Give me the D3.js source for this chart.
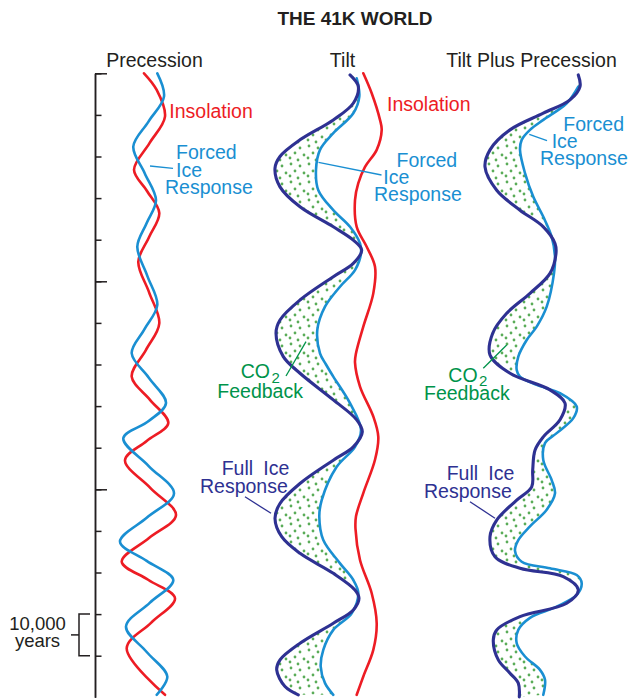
<!DOCTYPE html>
<html>
<head>
<meta charset="utf-8">
<script src="https://d3js.org/d3.v7.min.js"></script>
<style>
  body { margin: 0; background: #fff; }
  svg { display: block; }
  text { font-family: "Liberation Sans", Arial, Helvetica, sans-serif; }
</style>
</head>
<body>
<svg id="chart" width="630" height="699"></svg>
<script>
  // time runs downward, in thousands of years; x values are offsets from each panel's centre line
  const minorTicks = [0, 10, 20, 30, 40, 50, 60, 70, 80, 90, 100, 110, 120, 130, 140];
  const majorTicks = [0, 50, 100];
  const panelTitles = ["Precession", "Tilt", "Tilt Plus Precession"];

  // Precession panel
  const precInsolation = [[-4,0],[8.7,4],[17,10.4],[1.5,16.8],[-14,23.2],[-1,28.3],[11.3,33.6],[1,39.4],[-9.7,45.3],
    [1,52.6],[11.3,60.1],[-2,66.5],[-16.3,72.9],[2,78.5],[20.3,84.1],[-1.3,88.4],[-23,93],[2.5,99.7],[28,106.2],
    [1,111.7],[-26.3,117.4],[0.5,121.8],[27,126.2],[3,132.1],[-21.3,138.2],[17,149.4]];
  const precForced = [[9.3,0],[16,5.6],[0.5,11.6],[-14.7,17.6],[-3.3,24],[8,30.5],[-1.3,36],[-10.7,41.7],[-0.7,48.7],
    [9.3,55.7],[-3.5,61.5],[-16.3,67.3],[0.8,73.2],[18,79.3],[0.7,83.6],[-24.7,87.7],[0.7,94.4],[26,101],[-1,106.8],
    [-28,112.6],[-1.3,117.2],[25.3,121.8],[1.7,127.3],[-22,133],[-1.3,139.1],[19.3,145],[8.7,149.4]];

  // Tilt panel
  const tiltInsolation = [[43.3,0],[51.7,4.8],[60,11.2],[61.7,13.6],[56.7,18.4],[45,22.5],[38.3,26.4],[35,30.5],
    [36.7,36.9],[46.7,41.7],[55,46.5],[53.3,52.9],[43.3,60.9],[36,67.3],[35,69.5],[40,75.3],[53.3,82.5],[58.3,87.4],
    [55,92.9],[43.3,100.9],[36,106.5],[35.5,109.5],[40,117],[51.7,125],[56.7,132.2],[53.3,138.6],[43.3,145],[36.7,149.4]];
  const tiltForced = [[36.7,1.2],[39.3,5.6],[33.3,9.6],[13.3,14.4],[0,18.4],[-4,23.2],[-1.7,28.1],[13.3,32.9],[30,36.9],
    [40,40.9],[41,43.3],[35,47.3],[20,51.3],[5,56.1],[-2.7,61.7],[0,67.3],[6,70],[13.3,72.9],[30,79.3],[41,85.7],
    [35,89.8],[16.7,94.6],[1.7,102.6],[-0.7,106.6],[3.3,112.2],[20,117.8],[33.3,121.8],[38.3,125],[31.7,129.8],
    [13.3,133.8],[3.3,138.6],[0.7,142.6],[5,146.6],[13.3,149.4]];
  const tiltFull = [[30,0.4],[38.3,3.2],[33.3,7.2],[13.3,11.2],[-20,16],[-40,20],[-45,22.8],[-40,27.3],[-20,32.1],
    [13.3,36.9],[33.3,40.1],[41.7,42.5],[33.3,45.7],[13.3,48.9],[-20,54.5],[-40,59.3],[-44,62.5],[-36.7,68.1],
    [-20,72.1],[13.3,78.5],[36.7,83.3],[42.3,86.2],[33.3,89.8],[13.3,93],[-20,98.6],[-40,103.4],[-45,107],
    [-38.3,111.4],[-20,115.4],[13.3,120.2],[35,124.2],[39,126.2],[33.3,129],[13.3,132.2],[-20,137],[-40,141],
    [-43.3,143.4],[-35,147.4],[-21.7,149.4]];

  // Tilt plus precession panel
  const comboForced = [[43.3,3.2],[31.7,7.2],[8.3,11.2],[-5,13.6],[-13.3,16],[-15,18.4],[-10,24],[-1.7,29.7],[8.3,34.5],
    [16.7,39.3],[20,44.1],[19,48.1],[11.7,56.1],[1.7,60.9],[-8.3,64.1],[-16.7,68.1],[-18.3,71.3],[-15,72.9],[1.7,74.9],
    [25,76.9],[41.7,80.1],[38.3,82.9],[21.7,86.5],[10,88.9],[8.3,93],[16.7,97.8],[20,101],[11.7,104.9],[-5,108.9],
    [-16.7,112.2],[-20,114.8],[-13.3,117.4],[15,119],[41.7,120.6],[46.7,122.6],[41.7,125.4],[21.7,128.2],[-5,130.9],
    [-16.7,133.8],[-18.3,137],[-10,140.2],[5,143.4],[10,145.8],[8.3,149.4]];
  const comboFull = [[43.3,0.4],[45,3.2],[35,6.4],[8.3,9.6],[-25,13.6],[-45,18.4],[-50,22.5],[-38.3,28.1],[-15,32.9],
    [8.3,36.9],[20,40.9],[21,43.3],[15,48.1],[-5,52.9],[-28.3,57.7],[-42.3,62.5],[-45,67.7],[-25,72.1],[15,76.1],
    [30,79.3],[25,83.3],[8.3,87.4],[0,90.6],[-2.3,95.4],[-3.3,99.4],[-18.3,102.6],[-38.3,107.4],[-45,111.4],
    [-40,116.2],[-15,119],[28.3,121],[43.3,124.2],[31.7,127.4],[-15,130.6],[-38.3,133.8],[-41.7,136.2],[-36.7,141],
    [-25,144.2],[-16.7,146.6],[-15.7,149.9]];

  const RED = "#ed1c24", BLUE = "#1a8fd2", NAVY = "#2e3192", GREEN = "#00934a", INK = "#231f20";

  const svg = d3.select("#chart");

  const y = d3.scaleLinear().domain([0, 150]).range([73.3, 697.3]);
  const panelX = c => d3.scaleLinear().domain([-50, 50]).range([c - 50, c + 50]);
  const x1 = panelX(148), x2 = panelX(320), x3 = panelX(535);

  // dotted texture for the CO2 feedback band
  const defs = svg.append("defs");
  const pat = defs.append("pattern").attr("id", "dots").attr("patternUnits", "userSpaceOnUse")
    .attr("width", 18).attr("height", 18);
  [[3,2],[12,4],[7,9],[16,11],[2,14],[10,16]].forEach(p =>
    pat.append("circle").attr("cx", p[0]).attr("cy", p[1]).attr("r", 1.4).attr("fill", "#5aac58"));

  // title
  svg.append("text").attr("x", 355).attr("y", 25).attr("text-anchor", "middle")
    .attr("font-weight", "bold").attr("font-size", 19).attr("fill", INK).text("THE 41K WORLD");

  const titleX = [154.5, 342.5, 531.5];
  svg.selectAll(".ptitle").data(panelTitles).enter().append("text")
    .attr("class", "ptitle").attr("x", (d, i) => titleX[i]).attr("y", 66.7)
    .attr("text-anchor", "middle").attr("font-size", 19.5).attr("fill", INK).text(d => d);

  // time axis
  const axisG = svg.append("g").attr("transform", "translate(95,0)");
  axisG.call(d3.axisRight(y).tickValues(minorTicks).tickSize(6.5).tickSizeOuter(0).tickFormat(""));
  const majG = svg.append("g").attr("transform", "translate(95,0)");
  majG.call(d3.axisRight(y).tickValues(majorTicks).tickSize(12).tickSizeOuter(0).tickFormat(""));
  svg.selectAll(".domain, .tick line").attr("stroke", INK).attr("stroke-width", 1.5);

  // 10,000 years bracket
  const b = svg.append("g").attr("stroke", INK).attr("stroke-width", 1.5).attr("fill", "none");
  b.append("path").attr("d", `M90,${y(130)}H79V${y(140)}H90`);
  b.append("path").attr("d", `M71,${(y(130) + y(140)) / 2}H79`);
  svg.append("text").attr("x", 37.5).attr("y", 630).attr("text-anchor", "middle")
    .attr("font-size", 18.5).attr("fill", INK).text("10,000");
  svg.append("text").attr("x", 37.5).attr("y", 647).attr("text-anchor", "middle")
    .attr("font-size", 18.5).attr("fill", INK).text("years");

  const lineFor = xs => d3.line().x(d => xs(d[0])).y(d => y(d[1])).curve(d3.curveCatmullRom.alpha(0.5));

  function band(xs, full, forced) {
    const a = lineFor(xs)(full);
    const back = lineFor(xs)(forced.slice().reverse()).replace(/^M/, "L");
    svg.append("path").attr("d", a + back + "Z").attr("fill", "url(#dots)").attr("stroke", "none");
  }
  function curve(xs, data, color, w) {
    svg.append("path").attr("d", lineFor(xs)(data)).attr("fill", "none")
      .attr("stroke", color).attr("stroke-width", w).attr("stroke-linecap", "round");
  }

  band(x2, tiltFull, tiltForced);
  band(x3, comboFull, comboForced);

  curve(x1, precInsolation, RED, 2.6);
  curve(x1, precForced, BLUE, 2.6);
  curve(x2, tiltInsolation, RED, 2.6);
  curve(x2, tiltForced, BLUE, 2.6);
  curve(x2, tiltFull, NAVY, 3.1);
  curve(x3, comboForced, BLUE, 2.6);
  curve(x3, comboFull, NAVY, 3.1);

  // annotations
  function label(txt, x, yy, color, size) {
    svg.append("text").attr("x", x).attr("y", yy).attr("font-size", size || 19.5).attr("fill", color).text(txt);
  }
  function leader(xa, ya, xb, yb, color) {
    svg.append("line").attr("x1", xa).attr("y1", ya).attr("x2", xb).attr("y2", yb)
      .attr("stroke", color).attr("stroke-width", 1.3);
  }

  label("Insolation", 169.3, 117.7, RED);
  label("Forced", 176, 159, BLUE);
  label("Ice", 176, 176.5, BLUE);
  label("Response", 165, 193.5, BLUE);
  leader(150, 166, 173, 168.3, BLUE);

  label("Insolation", 387, 111, RED);
  label("Forced", 396.5, 166.7, BLUE);
  label("Ice", 383.3, 184.3, BLUE);
  label("Response", 374, 201, BLUE);
  leader(318.5, 162.3, 381.5, 175, BLUE);

  label("Forced", 563.3, 130.7, BLUE);
  label("Ice", 551.7, 148.3, BLUE);
  label("Response", 540, 165, BLUE);
  leader(529.3, 134.3, 547, 140.7, BLUE);

  label("CO", 240.7, 378.3, GREEN);
  label("2", 271.5, 383, GREEN, 15);
  label("Feedback", 217.3, 398.3, GREEN);
  leader(286, 376, 306, 341.7, GREEN);

  label("CO", 448.3, 381.5, GREEN);
  label("2", 479, 386, GREEN, 15);
  label("Feedback", 424, 400, GREEN);
  leader(483.3, 368.3, 506.7, 345, GREEN);

  label("Full", 221.7, 475, NAVY);
  label("Ice", 263.3, 475, NAVY);
  label("Response", 200, 492.7, NAVY);
  leader(245, 496.7, 271, 513.3, NAVY);

  label("Full", 446.7, 480, NAVY);
  label("Ice", 488.3, 480, NAVY);
  label("Response", 424, 498.3, NAVY);
  leader(470, 501.7, 495, 518.3, NAVY);
</script>
</body>
</html>
